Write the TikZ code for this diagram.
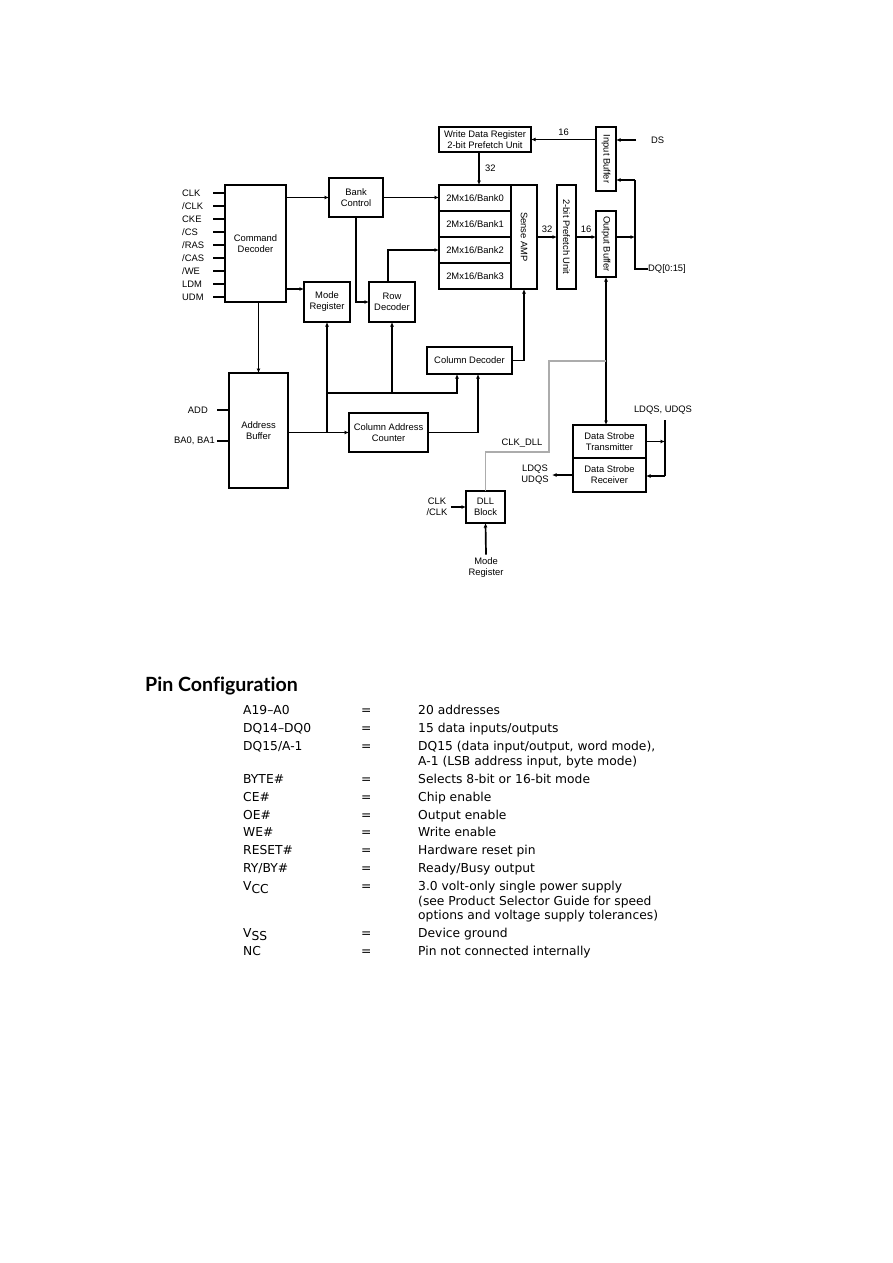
\documentclass[tikz,border=0pt]{standalone}
\usepackage{fontspec}
\setmainfont{Liberation Sans}
\newfontfamily\tabfont{DejaVu Sans}
\newfontfamily\headfont{Lato}[Ligatures={NoCommon}]
\usetikzlibrary{arrows.meta, positioning, calc}

\begin{document}
\begin{tikzpicture}[
  x=1pt, y=-1pt,
  font=\fontsize{9.4}{11}\selectfont,
  blk/.style={rectangle, draw, line width=2pt, outer sep=0pt, align=center, inner sep=1pt},
  pinlbl/.style={anchor=west, inner sep=0pt},
  wire/.style={line width=1.7pt},
  arr/.style={-{Latex[length=4.5pt,width=4pt]}, line width=1.7pt},
  dbl/.style={{Latex[length=4.5pt,width=4pt]}-{Latex[length=4.5pt,width=4pt]}, line width=1.7pt},
  dllwire/.style={gray!65, line width=1.1pt},
  tab/.style={anchor=base west, inner sep=0pt, font=\tabfont\fontsize{12.3}{14}\selectfont}
]
\fill[white] (0,0) rectangle (893,1263);
\useasboundingbox (0,0) rectangle (893,1263);

% control side
\node[blk, minimum width=61pt, minimum height=117pt] (cmd) at (255.5,243.5) {Command\\Decoder};
\node[blk, minimum width=54pt, minimum height=39pt] (bank) at (356,197.5) {Bank\\Control};
\node[blk, minimum width=46pt, minimum height=40pt] (modereg) at (327,302) {Mode\\Register};
\node[blk, minimum width=46pt, minimum height=40pt] (rowdec) at (392,302) {Row\\Decoder};

% memory array
\node[blk, minimum width=92pt, minimum height=25pt] (wdr) at (485,139.5) {Write Data Register\\2-bit Prefetch Unit};
\node[blk, minimum width=72pt, minimum height=26pt] (bank0) at (475,198) {2Mx16/Bank0};
\node[blk, minimum width=72pt, minimum height=26pt, below=0pt of bank0] (bank1) {2Mx16/Bank1};
\node[blk, minimum width=72pt, minimum height=26pt, below=0pt of bank1] (bank2) {2Mx16/Bank2};
\node[blk, minimum width=72pt, minimum height=26pt, below=0pt of bank2] (bank3) {2Mx16/Bank3};
\node[blk, minimum width=26pt, minimum height=104pt, anchor=north west] (samp) at (bank0.north east) {\rotatebox{-90}{Sense AMP}};
\node[blk, minimum width=19pt, minimum height=104pt] (pref) at (566.5,237) {\rotatebox{-90}{2-bit Prefetch Unit}};
\node[blk, minimum width=20pt, minimum height=64pt] (inbuf) at (606,159) {\rotatebox{-90}{Input Buffer}};
\node[blk, minimum width=20pt, minimum height=66pt] (outbuf) at (606,244) {\rotatebox{-90}{Output Buffer}};
\node[blk, minimum width=85pt, minimum height=27pt] (coldec) at (469.5,360.5) {Column Decoder};

% address side
\node[blk, minimum width=59pt, minimum height=115pt] (addrbuf) at (258.5,430.5) {Address\\Buffer};
\node[blk, minimum width=79pt, minimum height=39pt] (cac) at (388.5,432.5) {Column Address\\Counter};

% strobe and dll
\node[blk, minimum width=73pt, minimum height=33pt] (dst) at (609.5,441.5) {Data Strobe\\Transmitter};
\node[blk, minimum width=73pt, minimum height=34pt, below=0pt of dst] (dsr) {Data Strobe\\Receiver};
\node[blk, minimum width=39pt, minimum height=32pt] (dll) at (485.5,507) {DLL\\Block};

% pins of the command decoder
\foreach \name [count=\i] in {CLK,/CLK,CKE,/CS,/RAS,/CAS,/WE,LDM,UDM} {
  \node[pinlbl] (pin\i) at (182,180+13*\i) {\name};
  \draw[wire] (pin\i -| cmd.west) -- ++(-12,0);
}
\node[pinlbl, anchor=east] (add) at (208,410) {ADD};
\node[pinlbl, anchor=east] (ba) at (215,441) {BA0, BA1};
\draw[wire] (add -| addrbuf.west) -- ++(-12,0);
\draw[wire] (ba -| addrbuf.west) -- ++(-12,0);

% other labels
\coordinate (dsin) at (636,140);
\node[pinlbl] (ds) at (651,140) {DS};
\coordinate (dqtop) at (635,180);
\node[pinlbl] (dq) at (648,269) {DQ[0:15]};
\node (clkdll) at (522,443) {CLK\_DLL};
\coordinate (dllbend) at (549,361);
\node (ldqsin) at (663,410) {LDQS, UDQS};
\coordinate (sttop) at (665,420);
\coordinate (stbot) at (665,476);
\node[align=center] (ldqsout) at (535,475) {LDQS\\UDQS};
\node[align=center] (clkin) at (437,507) {CLK\\/CLK};
\node[align=center] (dllmode) at (486,568) {Mode\\Register};
\coordinate (mrin) at ([yshift=13pt]modereg.west);
\coordinate (hub) at (327,393);

% connectors
\draw[arr] (cmd.east |- bank.west) -- (bank.west);
\draw[arr] (bank.east) -- (bank.east -| bank0.west);
\draw[arr] (mrin -| cmd.east) -- (mrin);
\draw[arr] (bank.south) |- (rowdec.west);
\draw[arr] ([xshift=-4pt]rowdec.north) |- (bank2.west);
\draw[arr] ([xshift=-6pt]wdr.south) -- ([xshift=-6pt]wdr.south |- bank0.north) node[midway, right=2pt] {32};
\draw[arr] (inbuf.west |- wdr.east) -- (wdr.east) node[midway, above] {16};
\draw[arr] (dsin) -- (dsin -| inbuf.east);
\draw[arr] (samp.east |- pref.west) -- (pref.west) node[midway, above] {32};
\draw[arr] (pref.east) -- (outbuf.west |- pref.east) node[midway, above] {16};
\draw[arr] (outbuf.east |- pref.east) -- (pref.east -| dqtop);
\draw[wire] (dq.west) -| (dqtop);
\draw[arr] (dqtop) -- (dqtop -| inbuf.east);
\draw[dbl] (outbuf.south) -- (outbuf.south |- dst.north);
\draw[dllwire] (dll.north) -- ++(0,-39) -| (dllbend) -- (dllbend -| outbuf.south);
\draw[wire] (sttop) -- (stbot);
\draw[arr] (dst.east) -- (dst.east -| sttop);
\draw[arr] (stbot) -- (stbot -| dsr.east);
\draw[arr] (dsr.west) -- (ldqsout.east);
\draw[arr] (clkin.east) -- (dll.west);
\draw[arr] (dllmode.north) -- (dll.south);
\draw[arr] (cmd.south -| addrbuf.north) -- (addrbuf.north);
\draw[arr] (addrbuf.east |- cac.west) -- (cac.west);
\draw[arr] (modereg.south |- cac.west) -- (modereg.south);
\draw[arr] (hub) -| ([xshift=-12.5pt]coldec.south);
\draw[arr] (rowdec.south |- hub) -- (rowdec.south);
\draw[arr] (cac.east) -| ([xshift=8.5pt]coldec.south);
\draw[arr] (coldec.east) -| (samp.south);

% pin configuration table
\node[anchor=base west, inner sep=0pt, font=\headfont\bfseries\fontsize{19.6}{22}\selectfont] (pinhead) at (145,691) {Pin Configuration};
\foreach \y/\pin/\desc [count=\i] in {
  714/A19–A0/20 addresses,
  732/DQ14–DQ0/{15 data inputs/outputs},
  750/{DQ15/A-1}/{DQ15 (data input/output, word mode),},
  783/BYTE\#/Selects 8-bit or 16-bit mode,
  801/CE\#/Chip enable,
  819/OE\#/Output enable,
  836/WE\#/Write enable,
  854/RESET\#/Hardware reset pin,
  872/{RY/BY\#}/{Ready/Busy output},
  890/{V\raisebox{-3.5pt}{CC}}/3.0 volt-only single power supply,
  937/{V\raisebox{-3.5pt}{SS}}/Device ground,
  955/NC/Pin not connected internally} {
  \node[tab] (pk\i) at (243,\y) {\pin};
  \node[tab] (eq\i) at (361,\y) {=};
  \node[tab] (dk\i) at (418,\y) {\desc};
}
\foreach \y/\desc [count=\i] in {
  765/{A-1 (LSB address input, byte mode)},
  905/(see Product Selector Guide for speed,
  919/options and voltage supply tolerances)} {
  \node[tab] (ck\i) at (418,\y) {\desc};
}
\end{tikzpicture}
\end{document}
